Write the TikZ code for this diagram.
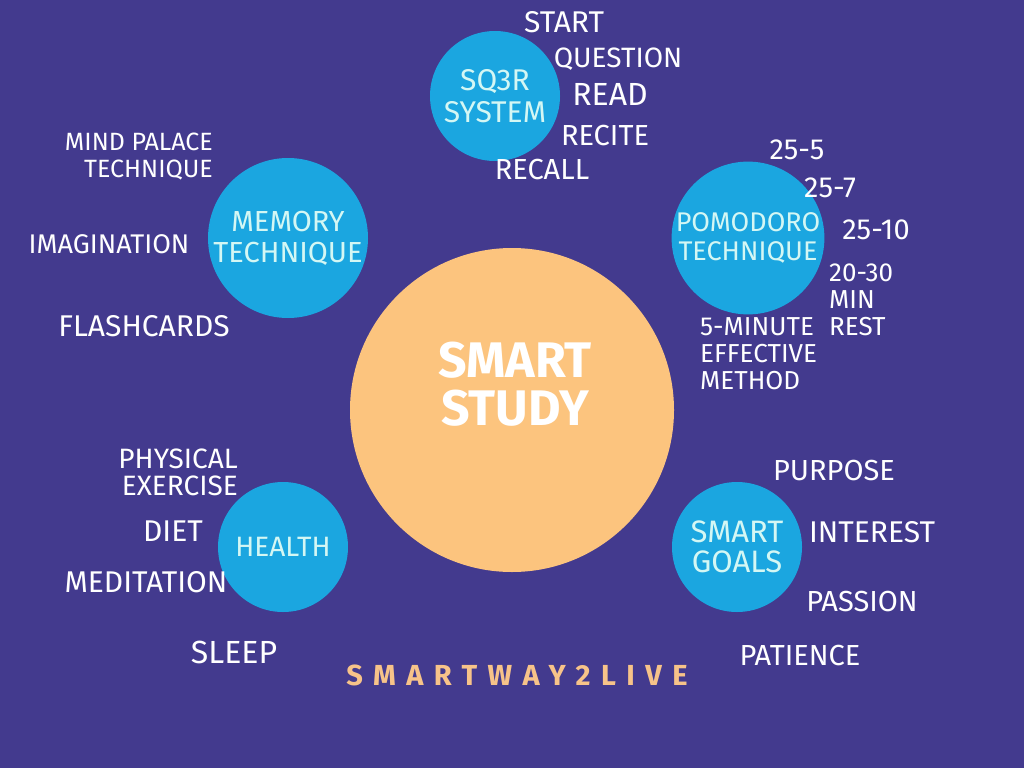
\documentclass[tikz,border=0pt]{standalone}
\usepackage{fontspec}
\setmainfont{Fira Sans}
\newfontfamily\brandfont[LetterSpace=36]{Fira Sans}
\usetikzlibrary{positioning}
\definecolor{bgpurple}{RGB}{67,58,142}
\definecolor{topicblue}{RGB}{27,166,224}
\definecolor{topictext}{RGB}{212,247,244}
\definecolor{huborange}{RGB}{252,196,126}
\definecolor{brandorange}{RGB}{247,195,137}
\newcommand{\fsz}[2]{\fontsize{#1}{#2}\selectfont}

\begin{document}
\begin{tikzpicture}[x=1pt, y=-1pt,
  hub/.style={circle, fill=huborange, minimum size=324pt, inner sep=0pt},
  topic/.style={circle, fill=topicblue, text=topictext, align=center, inner sep=0pt},
  leaf/.style={text=white, inner sep=0pt, align=center}]
  % background and page size
  \fill[bgpurple] (0,0) rectangle (1024,768);
  \useasboundingbox (0,0) rectangle (1024,768);

  % centre
  \node[hub] (study) at (512,410) {};
  \node[leaf, font=\bfseries\fsz{50}{48}] (studytitle) at (515,384) {SMART\\STUDY};

  % topics
  \node[topic, minimum size=130pt, font=\fsz{30}{32}] (sq3r) at (495,96) {SQ3R\\SYSTEM};
  \node[topic, minimum size=160pt, font=\fsz{29}{31}] (memory) at (288,238) {MEMORY\\TECHNIQUE};
  \node[topic, minimum size=148pt, font=\fsz{27}{29}] (pomodoro) at (748,238) {POMODORO\\TECHNIQUE};
  \node[topic, minimum size=130pt, font=\fsz{28}{30}] (health) at (283,547) {HEALTH};
  \node[topic, minimum size=130pt, font=\fsz{31}{30}] (goals) at (737,547) {SMART\\GOALS};

  % SQ3R steps
  \node[leaf, font=\fsz{30}{30}] (start) at (564,22) {START};
  \node[leaf, font=\fsz{28}{30}] (question) at (618,59) {QUESTION};
  \node[leaf, font=\fsz{32}{32}] (read) at (610,94) {READ};
  \node[leaf, font=\fsz{29}{30}] (recite) at (605,136) {RECITE};
  \node[leaf, font=\fsz{29}{30}] (recall) at (542,170) {RECALL};

  % pomodoro
  \node[leaf, font=\fsz{29}{30}] (p255) at (797,150) {25-5};
  \node[leaf, font=\fsz{29}{30}] (p257) at (830,188) {25-7};
  \node[leaf, font=\fsz{29}{30}] (p2510) at (876,230) {25-10};
  \node[leaf, font=\fsz{26}{27}, align=left, anchor=west] (rest) at (829,300) {20-30\\MIN\\REST};
  \node[leaf, font=\fsz{26}{27}, align=left, anchor=west] (fivemin) at (700,354) {5-MINUTE\\EFFECTIVE\\METHOD};

  % memory
  \node[leaf, font=\fsz{25}{27}, align=right, anchor=east] (palace) at (213,157) {MIND PALACE\\TECHNIQUE};
  \node[leaf, font=\fsz{27}{28}] (imagine) at (109,244) {IMAGINATION};
  \node[leaf, font=\fsz{30}{30}] (cards) at (144,326) {FLASHCARDS};

  % health
  \node[leaf, font=\fsz{28}{27}, align=right, anchor=east] (exercise) at (238,472) {PHYSICAL\\EXERCISE};
  \node[leaf, font=\fsz{30}{30}] (diet) at (173,531) {DIET};
  \node[leaf, font=\fsz{30}{31}] (meditate) at (146,582) {MEDITATION};
  \node[leaf, font=\fsz{32}{32}] (sleep) at (234,652) {SLEEP};

  % smart goals
  \node[leaf, font=\fsz{29}{30}] (purpose) at (834,471) {PURPOSE};
  \node[leaf, font=\fsz{30}{31}] (interest) at (872,532) {INTEREST};
  \node[leaf, font=\fsz{29}{30}] (passion) at (862,601) {PASSION};
  \node[leaf, font=\fsz{29}{30}] (patience) at (800,655) {PATIENCE};

  % brand
  \node[leaf, text=brandorange, font=\brandfont\bfseries\fsz{29}{30}] (brand) at (517,675) {SMARTWAY2LIVE};
\end{tikzpicture}
\end{document}
